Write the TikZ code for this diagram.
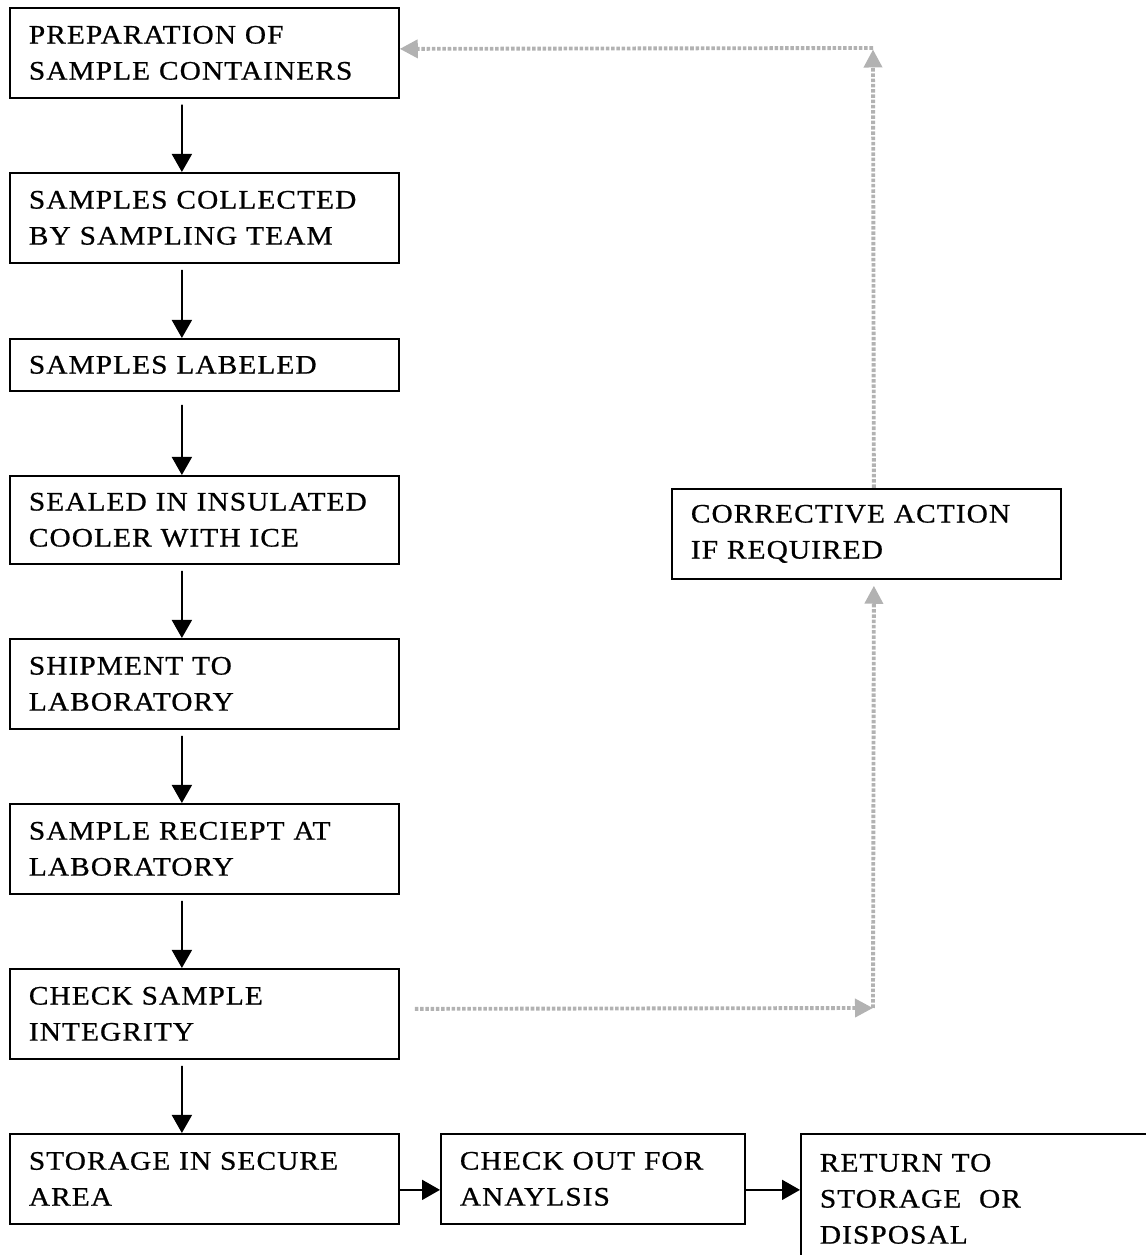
\documentclass[tikz,border=0pt]{standalone}
\usepackage{fontspec}
\newfontfamily\boxfont[LetterSpace=4,FakeStretch=1.1,FakeBold=0.7]{Liberation Serif}
\usetikzlibrary{arrows.meta}
\definecolor{fbgray}{RGB}{178,178,178}

\begin{document}
\begin{tikzpicture}[line width=1pt,
  stepbox/.style={draw,line width=1pt,anchor=north west,align=left,
    inner xsep=0.38cm,inner ysep=0.1cm,text width=7.02cm,minimum height=1.8cm,
    font=\boxfont\fontsize{15.2pt}{20.5pt}\selectfont},
  flow/.style={->,line width=1pt,>={Triangle[length=0.36cm,width=0.4cm]}},
  fb/.style={->,draw=fbgray,line width=2.2pt,dash pattern=on 2pt off 1pt,
    >={Triangle[length=0.36cm,width=0.36cm]}}]
\useasboundingbox (0,0) rectangle (22.92,25.1);
% ---- main column ----
\node[stepbox] (prep)  at (0.18,24.96) {PREPARATION OF\\SAMPLE CONTAINERS};
\node[stepbox] (coll)  at (0.18,21.66) {SAMPLES COLLECTED\\BY SAMPLING TEAM};
\node[stepbox,minimum height=1.04cm] (label) at (0.18,18.34) {SAMPLES LABELED};
\node[stepbox,minimum height=1.76cm] (seal) at (0.18,15.6) {SEALED IN INSULATED\\COOLER WITH ICE};
\node[stepbox] (ship)  at (0.18,12.34) {SHIPMENT TO\\LABORATORY};
\node[stepbox] (recpt) at (0.18,9.04) {SAMPLE RECIEPT AT\\LABORATORY};
\node[stepbox] (chk)   at (0.18,5.74) {CHECK SAMPLE\\INTEGRITY};
\node[stepbox] (store) at (0.18,2.44) {STORAGE IN SECURE\\AREA};
% ---- bottom row ----
\node[stepbox,text width=5.32cm] (chkout) at (8.8,2.44) {CHECK OUT FOR\\ANAYLSIS};
\node[stepbox,text width=6.18cm,minimum height=2.6cm] (ret) at (16.0,2.44) {RETURN TO\\STORAGE~ OR\\DISPOSAL};
% ---- corrective action ----
\node[stepbox] (corr) at (13.42,15.34) {CORRECTIVE ACTION\\IF REQUIRED};
\coordinate (bend1) at (17.46,4.94);
\coordinate (bend2) at (17.46,24.14);
% ---- black arrows ----
\draw[flow] ([shift={(-0.45,-0.12)}]prep.south)  -- ([xshift=-0.45cm]coll.north);
\draw[flow] ([shift={(-0.45,-0.12)}]coll.south)  -- ([xshift=-0.45cm]label.north);
\draw[flow] ([shift={(-0.45,-0.26)}]label.south) -- ([xshift=-0.45cm]seal.north);
\draw[flow] ([shift={(-0.45,-0.12)}]seal.south)  -- ([xshift=-0.45cm]ship.north);
\draw[flow] ([shift={(-0.45,-0.12)}]ship.south)  -- ([xshift=-0.45cm]recpt.north);
\draw[flow] ([shift={(-0.45,-0.12)}]recpt.south) -- ([xshift=-0.45cm]chk.north);
\draw[flow] ([shift={(-0.45,-0.12)}]chk.south)   -- ([xshift=-0.45cm]store.north);
\draw[flow] ([yshift=-0.22cm]store.east)  -- ([yshift=-0.22cm]chkout.west);
\draw[flow] ([yshift=-0.22cm]chkout.east) -- ([yshift=-0.22cm]chkout.east -| ret.west);
% ---- grey feedback loop ----
\draw[fb] ([shift={(0.3,0.1)}]chk.east) -- (bend1);
\draw[fb] (bend1) -- ([shift={(0.15,-0.12)}]corr.south);
\draw[fb] ([xshift=0.15cm]corr.north) -- ([yshift=-0.03cm]bend2);
\draw[fb] (bend2) -- ([yshift=0.08cm]prep.east);
\end{tikzpicture}
\end{document}
